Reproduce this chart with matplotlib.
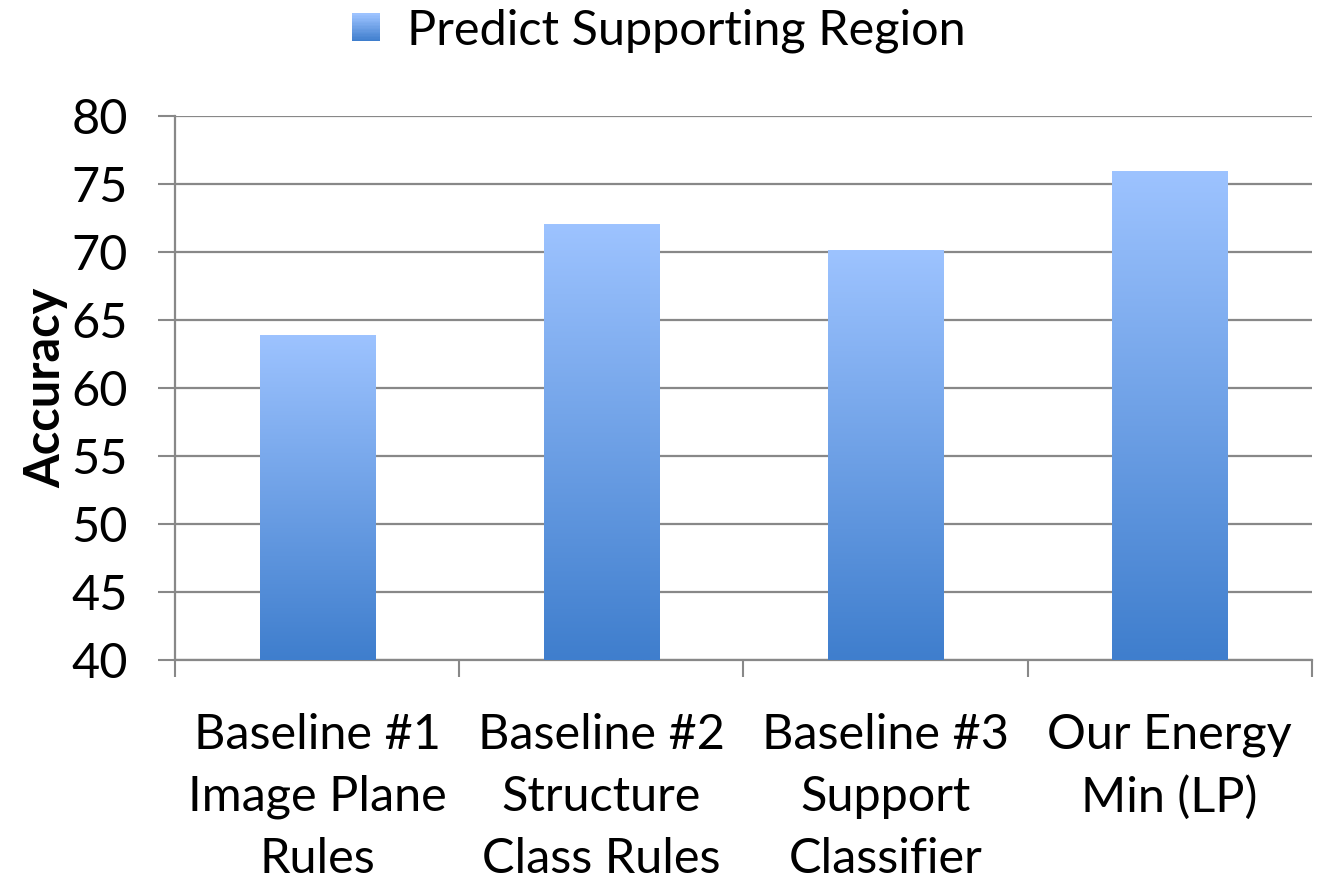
import matplotlib
matplotlib.use('Agg')
import matplotlib.pyplot as plt
import numpy as np
from matplotlib.patches import Rectangle
from matplotlib.legend_handler import HandlerBase
from matplotlib.colors import LinearSegmentedColormap

# Data
categories = ['Baseline #1\nImage Plane\nRules',
              'Baseline #2\nStructure\nClass Rules',
              'Baseline #3\nSupport\nClassifier',
              'Our Energy\nMin (LP)']
accuracy = [63.9, 72.0, 70.1, 75.9]
series_name = 'Predict Supporting Region'
y_ticks = [40, 45, 50, 55, 60, 65, 70, 75, 80]

plt.rcParams['font.family'] = ['Lato', 'DejaVu Sans']

top_color = '#9dc3ff'
bottom_color = '#3f7ecd'
cmap = LinearSegmentedColormap.from_list('bar_grad', [bottom_color, top_color])


class GradientHandler(HandlerBase):
    # legend box filled with a vertical gradient like the bars
    def create_artists(self, legend, orig_handle, xdescent, ydescent,
                       width, height, fontsize, trans):
        n = 20
        size = 20
        x0 = xdescent + (width - size) / 2
        y0 = -ydescent + (height - size) / 2
        arts = []
        for i in range(n):
            r = Rectangle((x0, y0 + size * i / n), size, size / n + 0.3,
                          facecolor=cmap(i / (n - 1)), edgecolor='none',
                          transform=trans)
            arts.append(r)
        return arts


fig = plt.figure(figsize=(13.17, 8.8), dpi=100)
ax = fig.add_axes([0.133, 0.25, 0.863, 0.618])

x = np.arange(len(categories))
bars = ax.bar(x, accuracy, width=0.405, bottom=0, color='none', zorder=3)

ymin, ymax = 40, 80
grad = np.linspace(0, 1, 256).reshape(-1, 1)
for b in bars:
    bx, bw, bh = b.get_x(), b.get_width(), b.get_height()
    ax.imshow(grad, cmap=cmap, origin='lower', aspect='auto',
              extent=[bx, bx + bw, ymin, bh], zorder=3)

ax.set_xlim(-0.5, len(categories) - 0.5)
ax.set_ylim(ymin, ymax)

ax.set_yticks(y_ticks)
ax.tick_params(axis='y', labelsize=35, length=12, width=1.5, color='#888888',
               pad=22)
ax.yaxis.grid(True, color='#888888', linewidth=1.6, zorder=0)
ax.set_axisbelow(True)

ax.set_xticks(x)
ax.set_xticklabels(categories, fontsize=35, linespacing=1.5)
ax.tick_params(axis='x', length=0, pad=38)
ax.set_xticks(np.arange(-0.5, len(categories)), minor=True)
ax.tick_params(axis='x', which='minor', length=12, width=1.5, color='#888888')

for s in ['top', 'right']:
    ax.spines[s].set_visible(False)
for s in ['left', 'bottom']:
    ax.spines[s].set_color('#888888')
    ax.spines[s].set_linewidth(1.6)

ax.set_ylabel('Accuracy', fontsize=35, fontweight='bold', labelpad=2)

handle = Rectangle((0, 0), 1, 1)
fig.legend([handle], [series_name], handler_map={Rectangle: GradientHandler()},
           loc='upper center', bbox_to_anchor=(0.5, 1.04), frameon=False,
           fontsize=35, handlelength=0.6, handletextpad=0.55)

plt.savefig('out.png', dpi=100)
